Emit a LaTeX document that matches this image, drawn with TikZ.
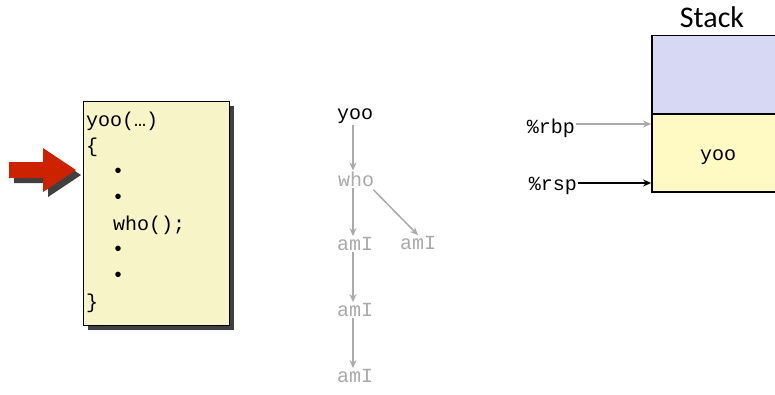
\documentclass[tikz,border=0pt]{standalone}
\usepackage{fontspec}
\setmonofont{Liberation Mono}
\newfontfamily\labelfont{Carlito}
\usepackage{tikz}
\usetikzlibrary{positioning}
\usetikzlibrary{shadows}
\usetikzlibrary{arrows.meta}
\definecolor{codebg}{RGB}{247,244,200}
\definecolor{framebg}{RGB}{214,216,244}
\definecolor{curbg}{RGB}{255,250,196}
\definecolor{callred}{RGB}{204,34,0}
\definecolor{faded}{RGB}{170,170,170}
\begin{document}
\begin{tikzpicture}
  [
    x=1pt, y=-1pt,
    code/.style={font=\fontsize{20}{20}\ttfamily, inner sep=0pt, anchor=west},
    tree/.style={font=\fontsize{20}{20}\ttfamily, inner sep=1pt, color=faded},
    reg/.style={font=\fontsize{20}{20}\ttfamily, inner sep=1pt, anchor=east},
    slot/.style={draw=black, line width=1.8pt, minimum width=132pt,
      minimum height=78pt, inner sep=0pt},
    ld/.style={draw=faded, line width=1.5pt, ->, >={Stealth[length=8pt,width=7pt]}}
  ]
  \useasboundingbox (0,0) rectangle (775,394);

  % code of yoo
  \node (box) at (156,213) [draw=black, fill=codebg, minimum width=146pt,
    minimum height=224pt, drop shadow={shadow xshift=5pt, shadow yshift=-5pt,
    fill=black!75, opacity=1}] {};
  \node (l1) at (86,121) [code] {yoo(…)};
  \node (l2) at (86,147) [code] {\{};
  \node (l3) at (118,173) [code, anchor=center] {•};
  \node (l4) at (118,199) [code, anchor=center] {•};
  \node (l5) at (113,225) [code] {who();};
  \node (l6) at (118,251) [code, anchor=center] {•};
  \node (l7) at (118,277) [code, anchor=center] {•};
  \node (l8) at (86,303) [code] {\}};

  % red arrow
  \fill [black!75] (14,167) -- (48,167) -- (48,153) -- (81,175) -- (48,197)
    -- (48,183) -- (14,183) -- cycle;
  \fill [callred] (9,162) -- (43,162) -- (43,148) -- (76,170) -- (43,192)
    -- (43,178) -- (9,178) -- cycle;

  % call tree
  \node (yoo) at (355,116) [tree, color=black] {yoo};
  \node (who) at (356,179) [tree] {who};
  \node (amIa) at (355,244) [tree] {amI};
  \node (amIb) at (418,243) [tree] {amI};
  \node (amIc) at (355,310) [tree] {amI};
  \node (amId) at (355,376) [tree] {amI};

  \draw [ld] (yoo.south -| 353,0) -- (who.north -| 353,0);
  \draw [ld] (who.south -| 353,0) -- (amIa.north -| 353,0);
  \draw [ld] (who.south east) ++(-2,2) -- (amIb.north) ;
  \draw [ld] (amIa.south -| 353,0) -- (amIc.north -| 353,0);
  \draw [ld] (amIc.south -| 353,0) -- (amId.north -| 353,0);

  % stack
  \node (stk) at (712,17) [font=\fontsize{30}{30}\labelfont] {Stack};
  \node (frm) at (718,74.5) [slot, fill=framebg] {};
  \node (cur) at (718,153) [slot, fill=curbg,
    label={[yshift=-4pt, font=\fontsize{20}{20}\ttfamily]center:yoo}] {};

  \node (rbp) at (576,128) [reg] {\%rbp};
  \node (rsp) at (578,186) [reg] {\%rsp};
  \draw [ld] (rbp.east |- 0,124) -- (cur.west |- 0,124);
  \draw [ld, draw=black] (rsp.east |- 0,183) -- (cur.west |- 0,183);
\end{tikzpicture}
\end{document}
